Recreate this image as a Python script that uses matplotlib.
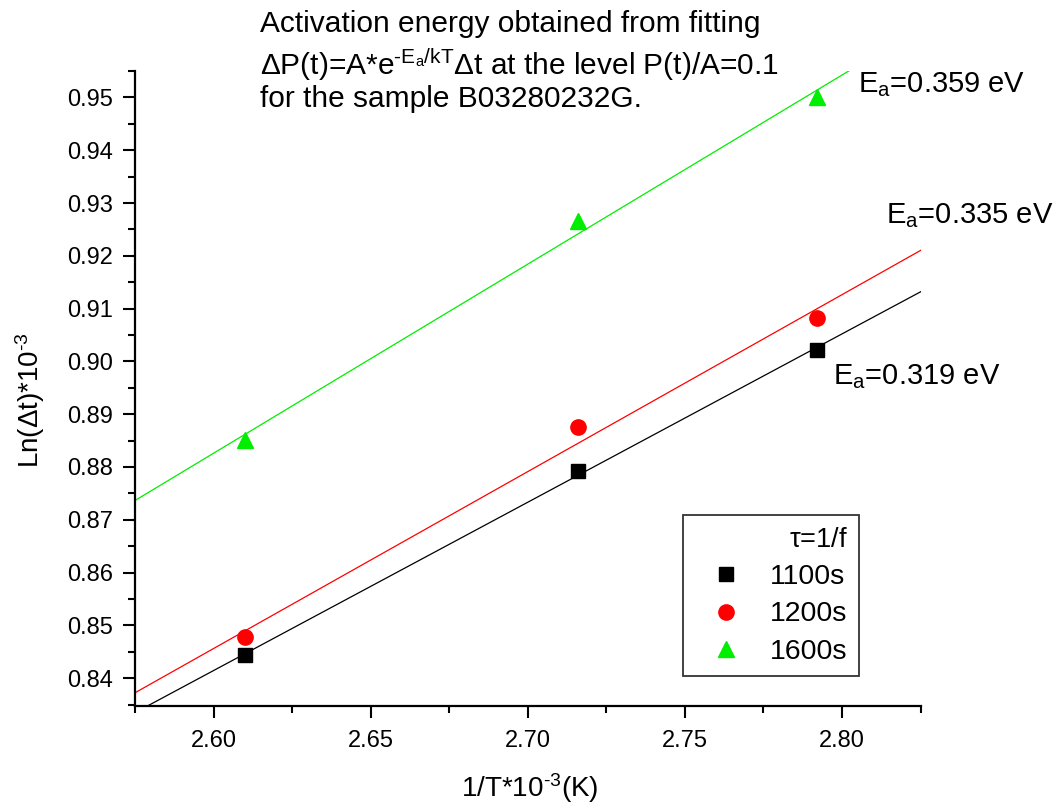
import numpy as np
import matplotlib
matplotlib.use("Agg")
import matplotlib.pyplot as plt
from matplotlib.ticker import MultipleLocator

plt.rcParams['font.family'] = ['Liberation Sans', 'DejaVu Sans']
plt.rcParams['mathtext.fontset'] = 'custom'
plt.rcParams['mathtext.rm'] = 'Liberation Sans'
plt.rcParams['mathtext.it'] = 'Liberation Sans'
plt.rcParams['mathtext.default'] = 'regular'

# inverse temperature, 1/T * 10^-3 (K)
inv_T = [2.610, 2.716, 2.792]

# Ln(dt) * 10^-3 for each period tau = 1/f
ln_dt_1100 = [0.8443, 0.8792, 0.9022]
ln_dt_1200 = [0.8477, 0.8875, 0.9082]
ln_dt_1600 = [0.8852, 0.9265, 0.9500]

labels = ['1100s', '1200s', '1600s']
energies = ['0.319', '0.335', '0.359']

fig = plt.figure(figsize=(10.63, 8.07), dpi=100)
ax = fig.add_axes([0.127, 0.125, 0.739, 0.787])

series = [ln_dt_1100, ln_dt_1200, ln_dt_1600]
colors = ['black', '#ff0000', '#00ee00']
markers = ['s', 'o', '^']
msizes = [9.5, 11, 11.5]

x_fit = np.linspace(2.57, 2.83, 50)
for ys, c, m, ms, lab in zip(series, colors, markers, msizes, labels):
    k, b = np.polyfit(inv_T, ys, 1)
    ax.plot(x_fit, k * x_fit + b, color=c, lw=0.9, zorder=2)
    ax.plot(inv_T, ys, ls='none', marker=m, color=c, ms=ms, mec=c,
            label=lab, zorder=3)

ax.set_xlim(2.575, 2.825)
ax.set_ylim(0.8347, 0.955)

ax.xaxis.set_major_locator(MultipleLocator(0.05))
ax.xaxis.set_minor_locator(MultipleLocator(0.025))
ax.yaxis.set_major_locator(MultipleLocator(0.01))
ax.yaxis.set_minor_locator(MultipleLocator(0.005))
ax.xaxis.set_major_formatter(plt.FormatStrFormatter('%.2f'))
ax.yaxis.set_major_formatter(plt.FormatStrFormatter('%.2f'))

for s in ['top', 'right']:
    ax.spines[s].set_visible(False)
for s in ['left', 'bottom']:
    ax.spines[s].set_linewidth(1.6)
ax.tick_params(which='major', direction='out', length=8.5, width=1.5,
               labelsize=17)
ax.tick_params(which='minor', direction='out', length=5, width=1.5)
ax.tick_params(axis='x', which='major', pad=9)
ax.tick_params(axis='y', which='major', pad=7)

ax.set_xlabel('1/T*10$^{\u20103}$(K)', fontsize=20, va='center')
ax.xaxis.set_label_coords(0.502, -0.129)
ax.set_ylabel('Ln($\\Delta$t)*10$^{\u20103}$', fontsize=20, va='center')
ax.yaxis.set_label_coords(-0.134, 0.482)

# activation energy labels next to the fit lines
ea_pos = [(2.7971, 0.8956), (2.814, 0.9261), (2.8051, 0.9509)]
for (xp, yp), e in zip(ea_pos, energies):
    ax.text(xp, yp, 'E$_a$=' + e + ' eV', fontsize=21, va='baseline',
            ha='left', clip_on=False)

leg = ax.legend(title='$\\tau$=1/f', loc='lower left',
                bbox_to_anchor=(0.697, 0.047), borderaxespad=0,
                fontsize=20.5, title_fontsize=19.5, frameon=True,
                fancybox=False, edgecolor='black', handletextpad=0.42,
                labelspacing=0.4, borderpad=0.4, handlelength=2.25,
                alignment='right')
leg.get_frame().set_linewidth(1.3)

fig.text(0.245, 0.9603, 'Activation energy obtained from fitting',
         fontsize=21.5, va='baseline')
fig.text(0.245, 0.9071,
         '$\\Delta$P(t)=A*e$^{\u2010E_a/kT}$$\\Delta$t at the level P(t)/A=0.1',
         fontsize=21.5, va='baseline')
fig.text(0.245, 0.8674, 'for the sample B03280232G.', fontsize=21.5,
         va='baseline')

fig.savefig('out.png', dpi=100)
